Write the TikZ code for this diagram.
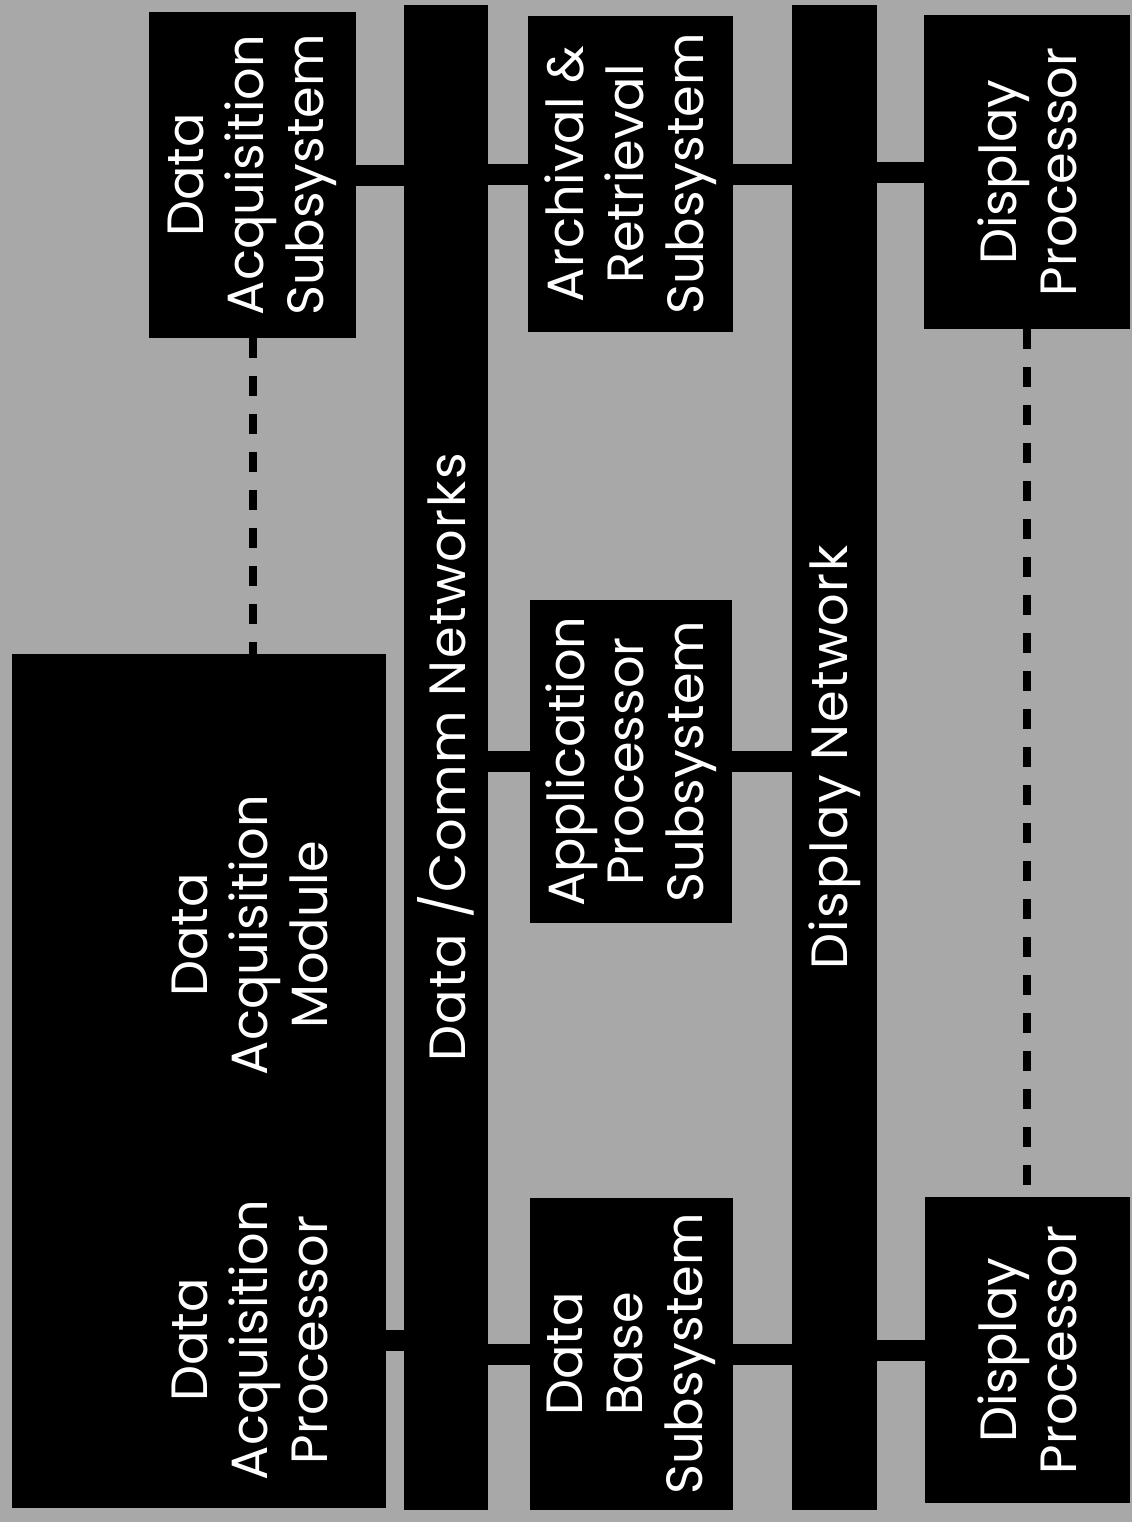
\documentclass[tikz,border=0pt]{standalone}
\usepackage{fontspec}
\setmainfont{Poppins}
\usepackage{xcolor}
\usetikzlibrary{backgrounds}
\definecolor{halftone}{RGB}{168,168,168}

\begin{document}
\begin{tikzpicture}[
  x=0.02cm, y=-0.02cm,
  font=\fontsize{29}{34}\selectfont,
  every node/.style={align=center},
  base/.style     = {fill=black, text=white, rotate=90, inner sep=0pt},
  subbox/.style   = {base, minimum width=6.4cm, minimum height=4.1cm},
  busbar/.style   = {base, minimum width=30.1cm, minimum height=1.7cm,
                     font=\fontsize{29}{34}\selectfont\addfontfeature{LetterSpace=3}},
  lbl/.style      = {text=white, rotate=90},
  link/.style     = {line width=0.42cm},
  dashlink/.style = {line width=0.16cm, dash pattern=on 0.4cm off 0.36cm}
]
\useasboundingbox (0,0) rectangle (1132,1522);

% upper row
\node[subbox, minimum width=6.52cm, minimum height=4.14cm] (das) at (252.5,175)
  {Data\\Acquisition\\Subsystem};
\node[subbox, minimum width=6.34cm, minimum height=4.10cm] (arc) at (630.5,174)
  {Archival \&\\Retrieval\\Subsystem};
\node[subbox, minimum width=6.28cm, minimum height=4.12cm] (dpt) at (1027,172)
  {Display\\Processor};

% middle
\node[subbox, minimum width=6.46cm, minimum height=4.04cm] (app) at (631,761.5)
  {Application\\Processor\\Subsystem};
\node[base, minimum width=17.08cm, minimum height=7.48cm] (dam) at (199,1081) {};
\node[lbl] at (250,935) {Data\\Acquisition\\Module};

% lower row
\node[base] (dap) at (250,1340) {Data\\Acquisition\\Processor};
\node[subbox, minimum width=6.24cm, minimum height=4.06cm] (db) at (631.5,1354)
  {Data\\Base\\Subsystem};
\node[subbox, minimum width=6.12cm, minimum height=4.10cm] (dpb) at (1027.5,1350)
  {Display\\Processor};

% networks
\node[busbar] (dcbar) at (446,757.5) {Data /Comm Networks};
\node[busbar] (dnbar) at (834.5,757.5) {Display Network};

\begin{scope}[on background layer]
  \fill[halftone] (0,0) rectangle (1132,1522);
  \draw[link] (das) -- (das -| dcbar);
  \draw[link] (dcbar |- arc) -- (arc);
  \draw[link] (arc) -- (arc -| dnbar);
  \draw[link] (dnbar |- dpt) -- (dpt);
  \draw[link] (dcbar |- app) -- (app);
  \draw[link] (app) -- (app -| dnbar);
  \draw[link] (dap) -- (dap -| dcbar);
  \draw[link] (dcbar |- db) -- (db);
  \draw[link] (db) -- (db -| dnbar);
  \draw[link] (dnbar |- dpb) -- (dpb);
  \draw[dashlink] (das) -- (das |- dam);
  \draw[dashlink] (dpt) -- (dpt |- dpb);
\end{scope}
\end{tikzpicture}
\end{document}
